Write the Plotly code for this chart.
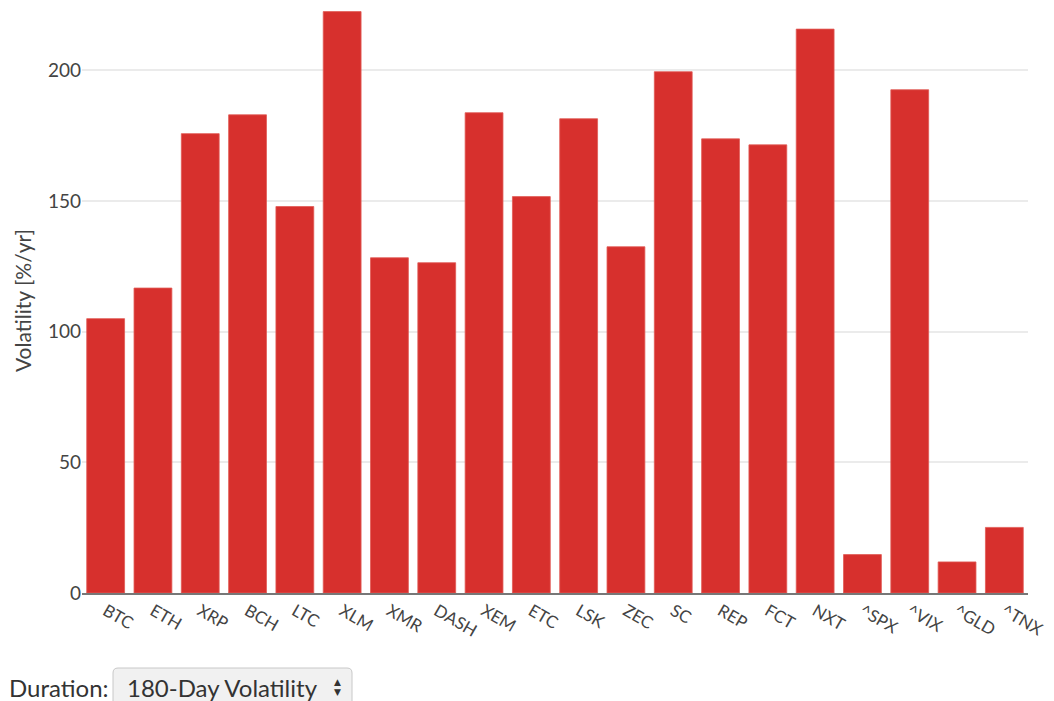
import plotly.graph_objects as go

categories = ["BTC", "ETH", "XRP", "BCH", "LTC", "XLM", "XMR", "DASH", "XEM", "ETC",
              "LSK", "ZEC", "SC", "REP", "FCT", "NXT", "^SPX", "^VIX", "^GLD", "^TNX"]
volatility = [105.0, 116.7, 175.8, 183.0, 147.9, 222.5, 128.3, 126.4, 183.8, 151.7,
              181.5, 132.5, 199.5, 173.8, 171.5, 215.8, 14.7, 192.6, 11.9, 25.1]
y_title = "Volatility [%/yr]"
duration_label = "Duration:"
duration_value = "180-Day Volatility"

W, H = 1054, 701
ML, MR, MT, MB = 82, 26, 8, 108
PW, PH = W - ML - MR, H - MT - MB
FONT = "Lato, 'Open Sans', sans-serif"


def px_x(p):
    return (p - ML) / PW


def px_y(p):
    return (H - MB - p) / PH


fig = go.Figure(go.Bar(
    x=categories, y=volatility,
    marker=dict(color="#d7302d", line=dict(color="rgba(225,90,85,0.8)", width=1)),
))

# dropdown-like box
x0, x1 = px_x(113), px_x(352)
yb, yt = px_y(706), px_y(668)
rx, ry = 5 / PW, 5 / PH
path = (f"M {x0+rx},{yt} L {x1-rx},{yt} Q {x1},{yt} {x1},{yt-ry} L {x1},{yb+ry} "
        f"Q {x1},{yb} {x1-rx},{yb} L {x0+rx},{yb} Q {x0},{yb} {x0},{yb+ry} "
        f"L {x0},{yt-ry} Q {x0},{yt} {x0+rx},{yt} Z")

fig.update_layout(
    width=W, height=H,
    margin=dict(l=ML, r=MR, t=MT, b=MB),
    paper_bgcolor="white", plot_bgcolor="white",
    font=dict(family=FONT, size=17, color="#444"),
    bargap=0.2,
    showlegend=False,
    xaxis=dict(tickangle=30, showline=True, linecolor="#777", linewidth=1.5,
               showgrid=False, tickfont=dict(size=17)),
    yaxis=dict(range=[0, PH / 2.613], tickvals=[0, 50, 100, 150, 200],
               gridcolor="#ebebeb", gridwidth=1.5, zeroline=False,
               title=dict(text=y_title, font=dict(size=21), standoff=10),
               tickfont=dict(size=19)),
    shapes=[dict(type="path", path=path, xref="paper", yref="paper",
                 fillcolor="#f1f1f1", line=dict(color="#c8c8c8", width=1))],
    annotations=[
        dict(text=duration_label, x=px_x(7), y=px_y(687), xref="paper", yref="paper",
             xanchor="left", yanchor="middle", showarrow=False,
             font=dict(family=FONT, size=24, color="#333")),
        dict(text=duration_value, x=px_x(125), y=px_y(687), xref="paper", yref="paper",
             xanchor="left", yanchor="middle", showarrow=False,
             font=dict(family=FONT, size=24, color="#333")),
        dict(text="▲", x=px_x(337), y=px_y(682), xref="paper", yref="paper",
             xanchor="center", yanchor="middle", showarrow=False,
             font=dict(family="DejaVu Sans", size=9, color="#333")),
        dict(text="▼", x=px_x(337), y=px_y(692), xref="paper", yref="paper",
             xanchor="center", yanchor="middle", showarrow=False,
             font=dict(family="DejaVu Sans", size=9, color="#333")),
    ],
)

fig.write_html("out.html", config={"displayModeBar": False},
               post_script="document.body.style.margin='0';")
